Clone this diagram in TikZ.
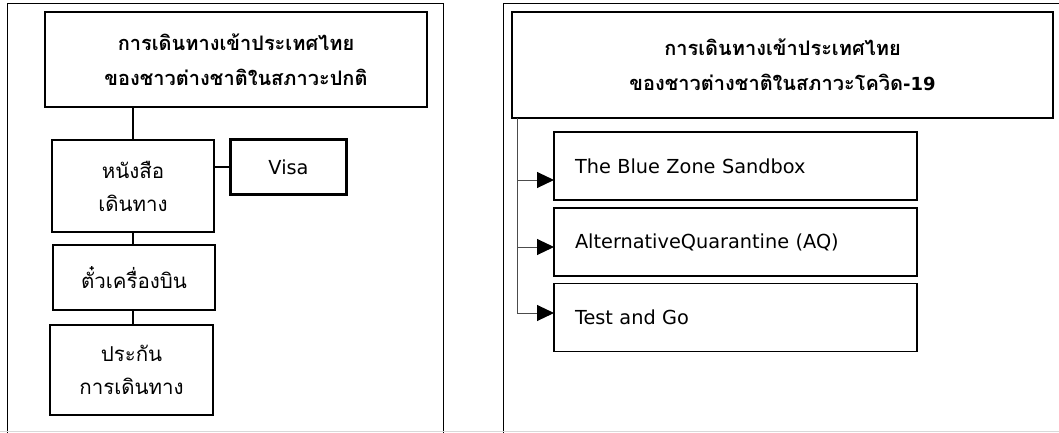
\documentclass[tikz,border=0pt]{standalone}
\usepackage{fontspec}
\setmainfont{DejaVu Sans}
\newfontfamily\thai[Script=Thai]{Loma}
\usetikzlibrary{arrows.meta}
\begin{document}
\begin{tikzpicture}[x=1pt,y=-1pt,
  frame/.style={draw=black, line width=1pt},
  box/.style={draw=black, line width=1.3pt, inner sep=0pt, outer sep=0pt, align=center},
  titlefont/.style={font=\thai\bfseries\fontsize{20}{35}\selectfont},
  thaitext/.style={font=\thai\fontsize{20.5}{33}\selectfont},
  entext/.style={font=\fontsize{19.3}{22}\selectfont},
  conn/.style={draw=black, line width=1.5pt},
  rconn/.style={draw=black!70, line width=1pt},
  arr/.style={rconn, -{Triangle[length=17pt,width=16pt,fill=black,color=black]}},
  optbox/.style={box, align=left, text width=321pt, inner xsep=21pt, minimum height=68pt, entext}
]
\useasboundingbox (0,0) rectangle (1059,433);
% outer frames
\draw[frame] (7,433) -- (7,4) -- (443,4) -- (443,433);
\draw[frame] (503,433) -- (503,4) -- (1062,4);
\draw[black!15, line width=1pt] (0,431.5) -- (1059,431.5);

% left column
\node[box, titlefont, minimum width=382pt, minimum height=95pt] (lt) at (236,59.5)
  {การเดินทางเข้าประเทศไทย\\ของชาวต่างชาติในสภาวะปกติ};
\node[box, thaitext, minimum width=162pt, minimum height=92pt] (pass) at (133,186)
  {หนังสือ\\เดินทาง};
\node[box, entext, line width=3.5pt, minimum width=116pt, minimum height=55pt] (visa) at (288.5,167)
  {Visa};
\node[box, thaitext, minimum width=162pt, minimum height=65pt] (tick) at (134,277.5)
  {ตั๋วเครื่องบิน};
\node[box, thaitext, minimum width=163pt, minimum height=90pt] (ins) at (131.5,370)
  {ประกัน\\การเดินทาง};

\draw[conn] (pass.north) -- (pass.north |- lt.south);
\draw[conn] (pass.south) -- (pass.south |- tick.north);
\draw[conn] (pass.south |- tick.south) -- (pass.south |- ins.north);
\draw[conn] (pass.east |- visa.west) -- (visa.west);

% right column
\node[box, titlefont, minimum width=541pt, minimum height=106pt] (rt) at (782.5,65)
  {การเดินทางเข้าประเทศไทย\\ของชาวต่างชาติในสภาวะโควิด{\fontspec{DejaVu Sans}\bfseries\fontsize{18}{35}\selectfont -19}};
\node[optbox] (o1) at (735.5,166) {The Blue Zone Sandbox};
\node[optbox] (o2) at (735.5,242) {AlternativeQuarantine (AQ)};
\node[optbox] (o3) at (735.5,317.5) {Test and Go};

\coordinate (trunk) at (517,118);
\coordinate (j1) at (517,180);
\coordinate (j2) at (517,247);
\coordinate (j3) at (517,313);
\draw[rconn] (trunk) -- (j3);
\draw[arr] (j1) -- (j1 -| o1.west);
\draw[arr] (j2) -- (j2 -| o2.west);
\draw[arr] (j3) -- (j3 -| o3.west);
\end{tikzpicture}
\end{document}
